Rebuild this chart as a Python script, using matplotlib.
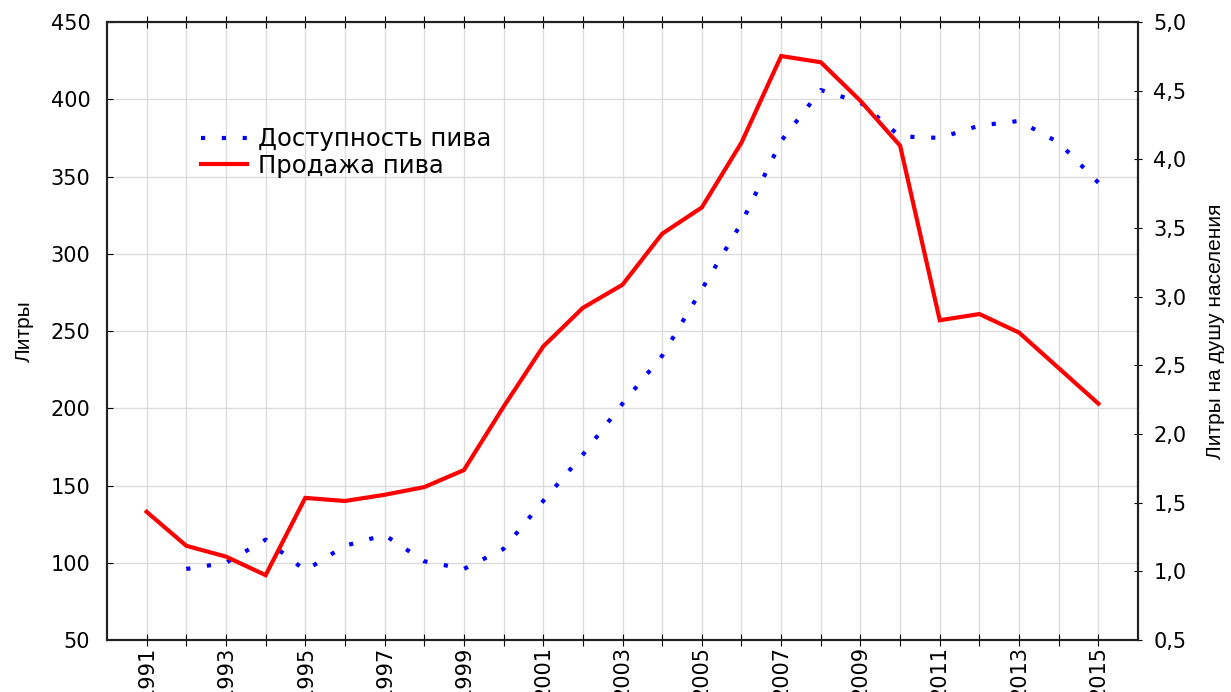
import matplotlib.pyplot as plt
import numpy as np

# Данные
years = list(range(1991, 2016))
sales = [133, 111, 104, 92, 142, 140, 144, 149, 160, 201, 240, 265, 280, 313,
         330, 372, 428, 424, 399, 370, 257, 261, 249, 226, 203]
avail_years = list(range(1992, 2016))
availability = [96, 100, 115, 95, 111, 118, 101, 96, 109, 140, 170, 203, 234,
                277, 320, 373, 406, 398, 376, 375, 383, 386, 372, 346]

left_ticks = [50, 100, 150, 200, 250, 300, 350, 400, 450]
right_ticks = [0.5, 1.0, 1.5, 2.0, 2.5, 3.0, 3.5, 4.0, 4.5, 5.0]

plt.rcParams['font.family'] = ['DejaVu Sans']
label_font = ['Liberation Sans Narrow', 'Liberation Sans', 'DejaVu Sans']

fig = plt.figure(figsize=(12.31, 6.92), dpi=100)
ax = fig.add_axes([0.0869, 0.0751, 0.8376, 0.893])

ax.plot(avail_years, availability, color='#0000ff', linewidth=3,
        linestyle=(0, (1, 4)), dash_capstyle='butt', label='Доступность пива')
ax.plot(years, sales, color='#ff0000', linewidth=3, solid_joinstyle='miter',
        label='Продажа пива')

ax.set_xlim(1990, 2016)
ax.set_ylim(50, 450)
ax.set_xticks(years)
ax.set_xticklabels([str(y) if y % 2 == 1 else '' for y in years],
                   rotation=90, fontsize=15)
ax.set_yticks(left_ticks)
ax.tick_params(axis='y', labelsize=15, direction='in', length=4, pad=12)
ax.tick_params(axis='x', direction='inout', length=8, top=True, pad=0)
ax.grid(True, color='#dcdcdc', linewidth=1)
ax.set_axisbelow(True)
for s in ax.spines.values():
    s.set_linewidth(1.5)
    s.set_color('#222222')

ax.set_ylabel('Литры', fontsize=15, family=label_font, labelpad=12)

ax2 = ax.twinx()
ax2.set_ylim(0.5, 5.0)
ax2.set_yticks(right_ticks)
ax2.set_yticklabels([f'{v:.1f}'.replace('.', ',') for v in right_ticks])
ax2.tick_params(axis='y', labelsize=15, direction='inout', length=6, pad=8)
ax2.set_ylabel('Литры на душу населения', fontsize=15,
               family=label_font, labelpad=14)
for s in ax2.spines.values():
    s.set_linewidth(1.5)
    s.set_color('#222222')

leg = ax.legend(loc='upper left', bbox_to_anchor=(0.07, 0.865), frameon=False,
                fontsize=17.5, handlelength=1.9, handletextpad=0.45,
                labelspacing=0.1)

fig.savefig('out.png', dpi=100)
